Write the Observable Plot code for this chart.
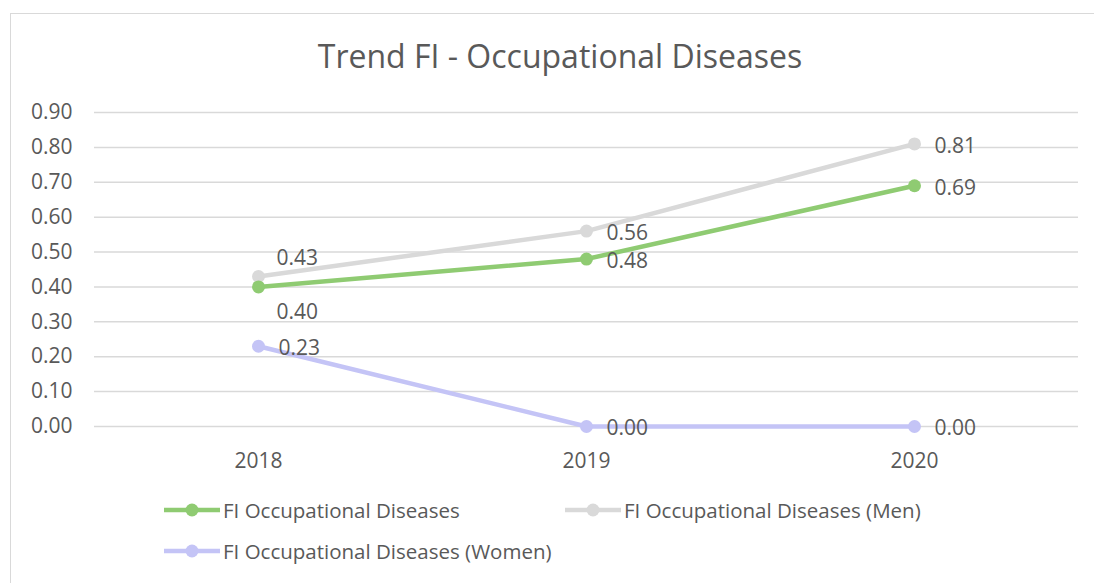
<!DOCTYPE html>
<html>
<head>
<meta charset="utf-8">
<script src="https://cdn.jsdelivr.net/npm/d3@7"></script>
<script src="https://cdn.jsdelivr.net/npm/@observablehq/plot@0.6"></script>
<style>
  body { margin: 0; background: #fff; font-family: "Open Sans", sans-serif; }
  #frame { position: absolute; left: 10px; top: 13px; width: 1100px; height: 580px; border: 1px solid #d9d9d9; box-sizing: border-box; }
  #title { position: absolute; left: 0; width: 1120px; top: 34px; text-align: center; font-size: 32px; color: #595959; }
  #chart { position: absolute; left: 0; top: 90px; }
  .leg { position: absolute; display: flex; align-items: center; font-size: 20.5px; color: #595959; white-space: nowrap; }
  .leg svg { margin-right: 2px; }
</style>
</head>
<body>
<div id="frame"></div>
<div id="title">Trend FI - Occupational Diseases</div>
<div id="chart"></div>
<div id="legend"></div>
<script>
const years = ["2018", "2019", "2020"];
const seriesNames = [
  "FI Occupational Diseases",
  "FI Occupational Diseases (Men)",
  "FI Occupational Diseases (Women)"
];
const totalValues = [0.40, 0.48, 0.69];
const menValues = [0.43, 0.56, 0.81];
const womenValues = [0.23, 0.00, 0.00];
const yTicks = [0, 0.1, 0.2, 0.3, 0.4, 0.5, 0.6, 0.7, 0.8, 0.9];

const colors = ["#8fcb72", "#d9d9d9", "#c4c4f6"];
const valuesBySeries = [totalValues, menValues, womenValues];

const rows = [];
seriesNames.forEach((s, si) => {
  years.forEach((y, i) => rows.push({series: s, year: y, value: valuesBySeries[si][i], si, i}));
});

const isAbove = d => d.i === 0 && d.si === 1;
const isBelow = d => d.i === 0 && d.si === 0;
const isRight = d => !isAbove(d) && !isBelow(d);
const labelOpts = {x: "year", y: "value", text: d => d.value.toFixed(2), textAnchor: "start", dx: 18, fill: "#595959", fontSize: 21};

const seriesMarks = [2, 1, 0].flatMap(si => [
  Plot.line(rows.filter(d => d.si === si), {x: "year", y: "value", stroke: colors[si], strokeWidth: 4.5}),
  Plot.dot(rows.filter(d => d.si === si), {x: "year", y: "value", fill: colors[si], r: 6.5})
]);

const plot = Plot.plot({
  width: 1094,
  height: 386,
  marginLeft: 94,
  marginRight: 16,
  marginTop: 22,
  marginBottom: 50,
  style: {fontFamily: "Open Sans, sans-serif", fontSize: "16px", color: "#595959", background: "transparent"},
  x: {type: "point", domain: years, padding: 0.5, label: null},
  y: {domain: [0, 0.9], label: null},
  marks: [
    Plot.ruleY(yTicks, {stroke: "#d9d9d9", strokeWidth: 1.5}),
    Plot.axisY({ticks: yTicks, tickFormat: d3.format(".2f"), tickSize: 0, tickPadding: 22, fontSize: 21, fill: "#595959"}),
    Plot.axisX({tickSize: 0, tickPadding: 27, fontSize: 21, fill: "#595959"}),
    ...seriesMarks,
    Plot.text(rows.filter(isRight), {...labelOpts, dx: 20, dy: 2}),
    Plot.text(rows.filter(isAbove), {...labelOpts, dy: -18}),
    Plot.text(rows.filter(isBelow), {...labelOpts, dy: 25})
  ]
});
document.getElementById("chart").appendChild(plot);

// legend
const legendItems = [
  {left: 163, top: 496, si: 0},
  {left: 564, top: 496, si: 1},
  {left: 163, top: 537, si: 2}
];
const legend = document.getElementById("legend");
legendItems.forEach(it => {
  const div = document.createElement("div");
  div.className = "leg";
  div.style.left = it.left + "px";
  div.style.top = it.top + "px";
  div.innerHTML = `<svg width="58" height="28"><line x1="1" x2="57" y1="14" y2="14" stroke="${colors[it.si]}" stroke-width="4.5"/><circle cx="29" cy="14" r="6.5" fill="${colors[it.si]}"/></svg><span>${seriesNames[it.si]}</span>`;
  legend.appendChild(div);
});
</script>
</body>
</html>
